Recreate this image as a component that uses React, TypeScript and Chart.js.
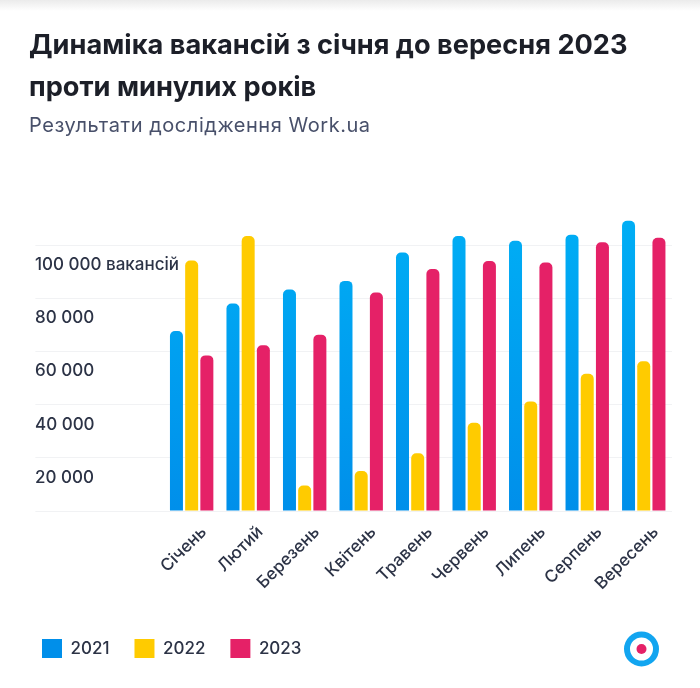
import React, { useEffect, useRef } from "react";
import { Chart, registerables } from "chart.js";

Chart.register(...registerables);

const months = ["Січень", "Лютий", "Березень", "Квітень", "Травень", "Червень", "Липень", "Серпень", "Вересень"];
const years = ["2021", "2022", "2023"];
const v2021 = [67700, 78000, 83300, 86500, 97200, 103400, 101600, 103900, 109100];
const v2022 = [94200, 103400, 9600, 15000, 21700, 33200, 41200, 51600, 56300];
const v2023 = [58500, 62300, 66300, 82100, 91000, 94000, 93400, 101000, 102700];
const tickValues = [0, 20000, 40000, 60000, 80000, 100000];
const tickLabels: Record<number, string> = {
  20000: "20 000",
  40000: "40 000",
  60000: "60 000",
  80000: "80 000",
  100000: "100 000 вакансій",
};

const FONT = "Inter, 'Noto Sans', sans-serif";
const TEXT = "#2c3346";

function vGrad(a: string, b: string) {
  return (ctx: any) => {
    const area = ctx.chart.chartArea;
    if (!area) return a;
    const g = ctx.chart.ctx.createLinearGradient(0, area.top, 0, area.bottom);
    g.addColorStop(0, a);
    g.addColorStop(1, b);
    return g;
  };
}

const placeLegend = {
  id: "placeLegend",
  afterLayout(chart: any) {
    chart.legend.left = 17;
    chart.legend.top = 614;
  },
};

export default function App() {
  const ref = useRef<HTMLCanvasElement>(null);
  useEffect(() => {
    document.body.style.margin = "0";
    const bar = { categoryPercentage: 0.807, barPercentage: 0.855, borderRadius: { topLeft: 5, topRight: 5 }, borderSkipped: false };
    const chart = new Chart(ref.current!, {
      type: "bar",
      plugins: [placeLegend],
      data: {
        labels: months,
        datasets: [
          { label: years[0], data: v2021, backgroundColor: vGrad("#00aef5", "#008fea"), ...bar },
          { label: years[1], data: v2022, backgroundColor: "#ffcb00", ...bar },
          { label: years[2], data: v2023, backgroundColor: "#e52167", ...bar },
        ],
      } as any,
      options: {
        responsive: false,
        animation: false,
        layout: { padding: { left: 35, right: 28, top: 218.4, bottom: 0 } },
        plugins: {
          tooltip: { enabled: false },
          title: { display: false },
          legend: {
            position: "bottom",
            align: "start",
            labels: {
              boxWidth: 20,
              boxHeight: 19,
              padding: 25,
              color: TEXT,
              font: { family: FONT, size: 17, weight: "500" },
            },
          },
        },
        scales: {
          x: {
            border: { display: false },
            grid: { display: false },
            afterFit: (s: any) => { s.height = 123; },
            ticks: {
              minRotation: 45,
              maxRotation: 45,
              autoSkip: false,
              padding: 3,
              labelOffset: 12,
              color: TEXT,
              font: { family: FONT, size: 17, weight: "500" },
            },
          },
          y: {
            min: 0,
            max: 110000,
            border: { display: false },
            afterFit: (s: any) => { s.width = 128.4; },
            afterBuildTicks: (s: any) => { s.ticks = tickValues.map((value) => ({ value })); },
            grid: { color: "#f1f2f4", tickLength: 128, tickColor: "#f1f2f4", lineWidth: 1 },
            ticks: {
              autoSkip: false,
              mirror: true,
              padding: -128.4,
              color: TEXT,
              font: { family: FONT, size: 17, weight: "500", lineHeight: 2.35 },
              callback: (v: any) => (tickLabels[v] ? ["", tickLabels[v]] : ""),
            },
          },
        },
      } as any,
    });
    return () => chart.destroy();
  }, []);

  const abs = (o: React.CSSProperties): React.CSSProperties => ({ position: "absolute", whiteSpace: "nowrap", ...o });
  return (
    <div style={{ position: "relative", width: 700, height: 688, overflow: "hidden", background: "#fff", fontFamily: FONT }}>
      <canvas ref={ref} width={700} height={688} style={{ display: "block", position: "absolute", left: 0, top: 0 }} />
      <div style={abs({ left: 0, top: 0, width: 700, height: 11, background: "linear-gradient(#ebebeb,#ffffff)" })} />
      <div style={abs({ left: 29, top: 24, fontSize: 27.2, fontWeight: 700, lineHeight: "42px", color: "#1c1f28" })}>
        Динаміка вакансій з січня до вересня 2023
        <br />
        проти минулих років
      </div>
      <div style={abs({ left: 29, top: 113, fontSize: 20, letterSpacing: 0.55, lineHeight: "24px", color: "#48506a" })}>Результати дослідження Work.ua</div>
      <svg width="40" height="40" style={abs({ left: 622, top: 629 })}>
        <circle cx="19.5" cy="20" r="14.5" fill="none" stroke="#12a5f0" strokeWidth="6" />
        <circle cx="19.5" cy="20" r="5" fill="#e52167" />
      </svg>
    </div>
  );
}
